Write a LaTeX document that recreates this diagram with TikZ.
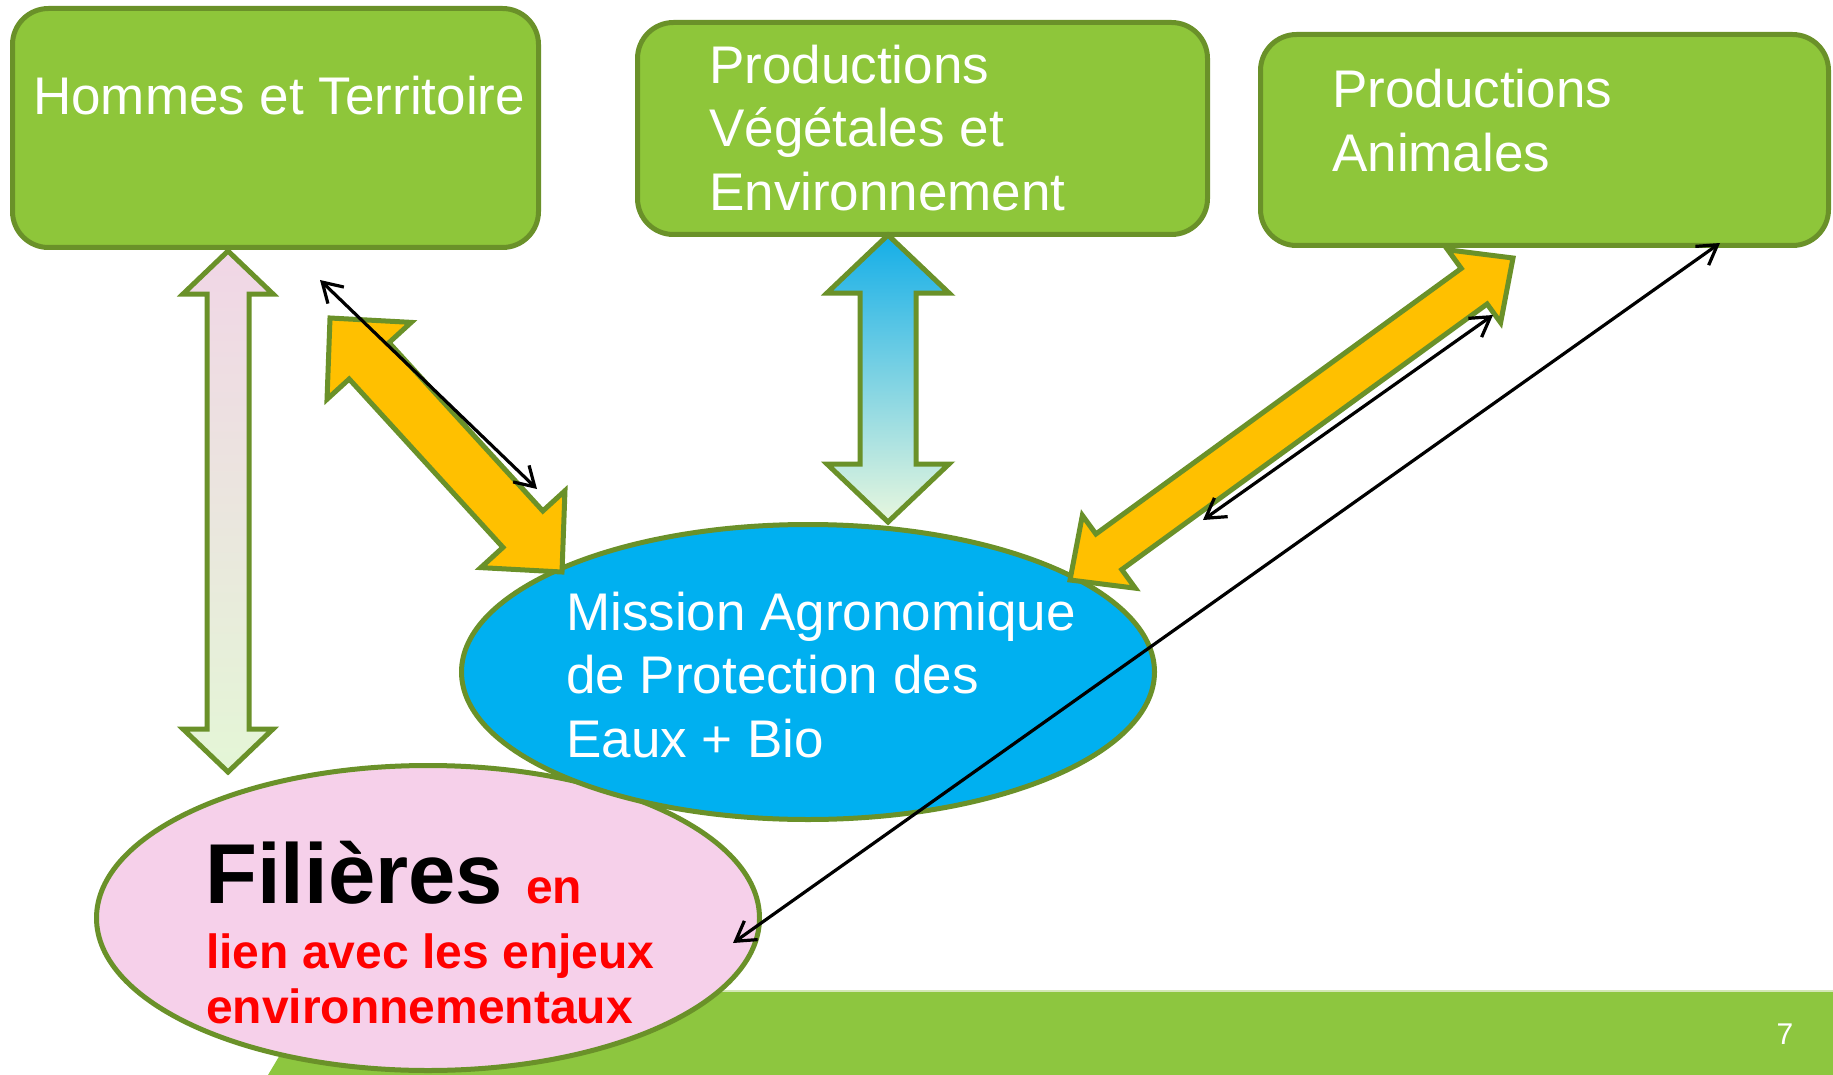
\documentclass[tikz,border=0pt]{standalone}
\usepackage{fontspec}
\setmainfont{Liberation Sans}
\usetikzlibrary{calc,arrows.meta,shapes.geometric}
\definecolor{boxgreen}{HTML}{8EC63A}
\definecolor{olivec}{HTML}{6A9129}
\definecolor{bandgreen}{HTML}{8DC63F}
\definecolor{bandline}{HTML}{D3E7B5}
\definecolor{missionblue}{HTML}{00B0F0}
\definecolor{filpink}{HTML}{F6D0EA}
\definecolor{arrowyellow}{HTML}{FFC000}
\definecolor{redtext}{HTML}{FF0000}
\definecolor{arblue}{HTML}{14AEE8}
\definecolor{arlgreen}{HTML}{D2EFBE}
\definecolor{arpale}{HTML}{E8F7DE}
\definecolor{arpink}{HTML}{F1D6E6}
\definecolor{armid}{HTML}{DFEBD4}
\definecolor{arpalegreen}{HTML}{E4F6D6}
\tikzset{
  greenbox/.style={draw=olivec, line width=5pt, fill=boxgreen, rounded corners=36pt,
    rectangle, inner sep=0pt, outer sep=0pt},
  ovalnode/.style={ellipse, draw=olivec, line width=5pt, inner sep=0pt, outer sep=0pt},
  boxtext/.style={text=white, font=\fontsize{53}{62}\selectfont, anchor=base west, inner sep=0pt},
  redline/.style={text=redtext, font=\fontsize{48}{56}\selectfont\bfseries, anchor=base west, inner sep=0pt},
  fatstyle/.style={draw=olivec, line width=5pt, line join=miter},
  thinlink/.style={draw=black, line width=3.2pt,
    {Straight Barb[length=19pt,width=23pt]}-{Straight Barb[length=19pt,width=23pt]}}
}
% #1 style, #2 tip A, #3 tip B, #4 head length, #5 head half width, #6 shaft half width
\newcommand\fatarrow[6]{%
  \coordinate (#2-m) at ($(#2)!#4!(#3)$);
  \coordinate (#3-m) at ($(#3)!#4!(#2)$);
  \path[#1] (#2) -- ($(#2-m)!#5!90:(#3)$) -- ($(#2-m)!#6!90:(#3)$)
    -- ($(#3-m)!#6!-90:(#2)$) -- ($(#3-m)!#5!-90:(#2)$) -- (#3)
    -- ($(#3-m)!#5!90:(#2)$) -- ($(#3-m)!#6!90:(#2)$)
    -- ($(#2-m)!#6!-90:(#3)$) -- ($(#2-m)!#5!-90:(#3)$) -- cycle;
}
\begin{document}
\begin{tikzpicture}[x=1pt,y=-1pt]
\useasboundingbox (0,0) rectangle (1833,1075);
% bottom band
\fill[bandgreen] (268,1075) -- (318,991) -- (1833,991) -- (1833,1075) -- cycle;
\draw[bandline, line width=1.5pt] (318,991) -- (1833,991);
\node[text=white, font=\fontsize{30}{36}\selectfont, inner sep=0pt] (pnum) at (1785,1034) {7};

% ellipses
\node[ovalnode, fill=filpink, minimum width=663pt, minimum height=305pt] (fil) at (428,918) {};
\node[ovalnode, fill=missionblue, minimum width=693pt, minimum height=295pt] (mis) at (808,672) {};

% boxes
\node[greenbox, minimum width=526pt, minimum height=239pt] (ht) at (275.5,128) {};
\node[greenbox, minimum width=570pt, minimum height=212pt] (pv) at (922.5,128.5) {};
\node[greenbox, minimum width=568pt, minimum height=211pt] (pa) at (1544.5,140) {};

% box texts
\node[boxtext] (ht1) at (33,115) {Hommes et Territoire};
\node[boxtext] (pv1) at (709,84) {Productions};
\node[boxtext] (pv2) at (709,147) {Végétales et};
\node[boxtext] (pv3) at (709,211) {Environnement};
\node[boxtext] (pa1) at (1332,108) {Productions};
\node[boxtext] (pa2) at (1332,172) {Animales};

% mission text
\node[boxtext] (mi1) at (566,630) {Mission Agronomique};
\node[boxtext] (mi2) at (566,693) {de Protection des};
\node[boxtext] (mi3) at (566,757) {Eaux + Bio};

% filieres text
\node[anchor=base west, inner sep=0pt, font=\fontsize{85}{96}\selectfont\bfseries] (fi1) at (205,903) {Filières};
\node[redline] (fi2) at (526,903) {en};
\node[redline] (fi3) at (206,968) {lien avec les enjeux};
\node[redline] (fi4) at (206,1023) {environnementaux};

% fat arrow end points
\coordinate (la) at (228,251);
\coordinate (lb) at (228,772);
\coordinate (ma) at (888,235);
\coordinate (mb) at (888,522);
\coordinate (ya) at (330,318);
\coordinate (yb) at (562,572);
\coordinate (za) at (1513,258);
\coordinate (zb) at (1070,580);

\fatarrow{fatstyle, top color=arpink, middle color=armid, bottom color=arpalegreen}{la}{lb}{43pt}{45pt}{21pt}
\fatarrow{fatstyle, top color=arblue, middle color=arlgreen, bottom color=arpale}{ma}{mb}{58pt}{61pt}{28pt}
\fatarrow{fatstyle, fill=arrowyellow}{ya}{yb}{58pt}{57pt}{27pt}
\fatarrow{fatstyle, fill=arrowyellow}{za}{zb}{48pt}{45pt}{22pt}

% thin arrows
\coordinate (t1a) at (320,280);
\coordinate (t1b) at (537,489);
\coordinate (t2a) at (1493,315);
\coordinate (t2b) at (1203,520);
\coordinate (t3a) at (1720,243);
\coordinate (t3b) at (733,943);
\draw[thinlink] (t1a) -- (t1b);
\draw[thinlink] (t2a) -- (t2b);
\draw[thinlink] (t3a) -- (t3b);
\end{tikzpicture}
\end{document}
